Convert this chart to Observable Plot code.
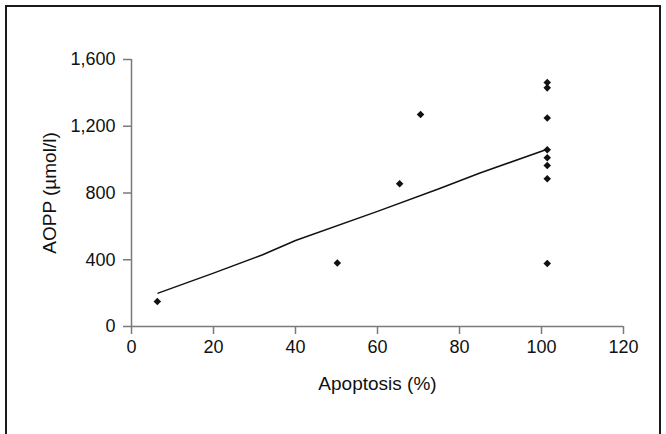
<!DOCTYPE html>
<html>
<head>
<meta charset="utf-8">
<script src="https://cdn.jsdelivr.net/npm/d3@7"></script>
<script src="https://cdn.jsdelivr.net/npm/@observablehq/plot@0.6"></script>
<style>
  html, body { margin: 0; padding: 0; background: #fff; overflow: hidden; }
  #wrap { position: relative; width: 666px; height: 434px; overflow: hidden; }
  #frame { position: absolute; left: 5px; top: 5px; width: 656px; height: 460px;
           border: 2px solid #1a1a1a; border-bottom: none; box-sizing: border-box; }
  #chart { position: absolute; left: 0; top: 0; }
  g[aria-label="x-axis label"] text, g[aria-label="y-axis label"] text { font-size: 19px; }
  g[aria-label="x-axis label"], g[aria-label="y-axis label"] { font-size: 19px; }
</style>
</head>
<body>
<div id="wrap"><div id="frame"></div><div id="chart"></div></div>
<script>
// Scatter points: Apoptosis (%) vs AOPP (µmol/l)
const apoptosis = [6.3, 50.2, 65.4, 70.5, 101.4, 101.4, 101.4, 101.4, 101.4, 101.4, 101.4, 101.4];
const aopp      = [150, 380, 855, 1270, 1462, 1430, 1250, 1059, 1011, 965, 885, 377];

// Fitted line as drawn
const fitX = [6.5, 20, 32, 40, 60, 75, 85, 101.4];
const fitY = [200, 320, 430, 515, 690, 825, 920, 1062];

const xTicks = [0, 20, 40, 60, 80, 100, 120];
const yTicks = [0, 400, 800, 1200, 1600];

const points = apoptosis.map((x, i) => ({x, y: aopp[i]}));
const fit = fitX.map((x, i) => ({x, y: fitY[i]}));

const axisGray = "#7a7a7a";
const chart = Plot.plot({
  width: 666,
  height: 434,
  marginLeft: 131,
  marginRight: 43,
  marginTop: 59,
  marginBottom: 108,
  style: {fontFamily: "'Liberation Sans', Arial, sans-serif", fontSize: "18px", color: "#111", background: "transparent"},
  x: {domain: [0, 120]},
  y: {domain: [0, 1600]},
  marks: [
    Plot.ruleX([0], {stroke: axisGray, strokeWidth: 1.5}),
    Plot.ruleY([0], {stroke: axisGray, strokeWidth: 1.5}),
    Plot.axisX(xTicks, {stroke: axisGray, fill: "#111", tickSize: 8, tickPadding: 6,
      label: "Apoptosis (%)", labelAnchor: "center", labelArrow: "none", labelOffset: 63, strokeWidth: 1.5}),
    Plot.axisY(yTicks, {stroke: axisGray, fill: "#111", tickSize: 8, tickPadding: 8, tickFormat: d3.format(","),
      label: "AOPP (µmol/l)", labelAnchor: "center", labelArrow: "none", labelOffset: 89, strokeWidth: 1.5}),
    Plot.line(fit, {x: "x", y: "y", stroke: "#111", strokeWidth: 1.5}),
    Plot.dot(points, {x: "x", y: "y", symbol: "diamond2", r: 3.4, fill: "#111", stroke: "none"})
  ]
});
document.getElementById("chart").appendChild(chart);
</script>
</body>
</html>
